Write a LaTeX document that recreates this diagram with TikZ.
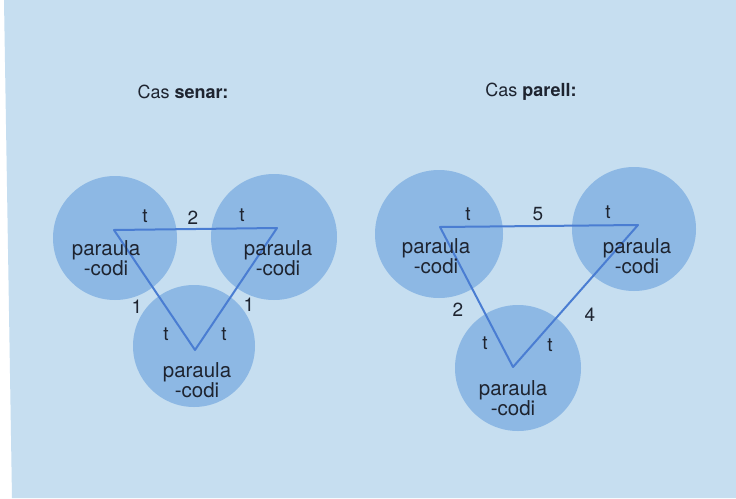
\documentclass[tikz,border=0pt]{standalone}
\usepackage{fontspec}
\setmainfont{TeX Gyre Heros}
\definecolor{bg}{HTML}{C6DEF0}
\definecolor{disc}{HTML}{8DB8E4}
\definecolor{edge}{HTML}{4A7DD2}
\definecolor{ink}{HTML}{1E2430}
\begin{document}
\begin{tikzpicture}[x=1pt,y=-1pt,
  discstyle/.style={fill=disc,draw=none},
  wordlbl/.style={font=\fontsize{20.5}{19}\selectfont,text=ink,align=center,inner sep=0pt},
  smalllbl/.style={font=\fontsize{19}{19}\selectfont,text=ink,inner sep=0pt},
  titlelbl/.style={font=\fontsize{18}{18}\selectfont,text=ink,inner sep=0pt},
  link/.style={draw=edge,line width=2pt,line join=round}]
\useasboundingbox (0,0) rectangle (736,498);
\fill[white] (0,0) rectangle (736,498);
\fill[bg] (4,0) -- (736,0) -- (736,498) -- (12,498) -- cycle;
% titles
\node[titlelbl] (t1) at (183,92) {Cas \textbf{senar:}};
\node[titlelbl] (t2) at (531,92) {Cas \textbf{parell:}};
% left discs
\fill[discstyle] (115,238) circle (62);
\fill[discstyle] (274,237) circle (63);
\fill[discstyle] (194,346) circle (61);
% right discs
\fill[discstyle] (439,234) circle (64);
\fill[discstyle] (634,229) circle (62);
\fill[discstyle] (518,368) circle (63);
% left triangle
\coordinate (a) at (114,230);
\coordinate (b) at (277,228);
\coordinate (c) at (195,350);
\draw[link] (a) -- (b) -- (c) -- cycle;
% right triangle
\coordinate (d) at (440,227);
\coordinate (e) at (638,225);
\coordinate (f) at (513,367);
\draw[link] (d) -- (e) -- (f) -- cycle;
% left labels
\node[smalllbl] (la1) at (145,216) {t};
\node[smalllbl] (la2) at (193,218) {2};
\node[smalllbl] (la3) at (242,215) {t};
\node[wordlbl] (wa) at (106,258) {paraula\\-codi};
\node[wordlbl] (wb) at (278,258) {paraula\\-codi};
\node[smalllbl] (la4) at (137,307) {1};
\node[smalllbl] (la5) at (249,305) {1};
\node[smalllbl] (la6) at (166,334) {t};
\node[smalllbl] (la7) at (224,334) {t};
\node[wordlbl] (wc) at (197,380) {paraula\\-codi};
% right labels
\node[smalllbl] (ra1) at (468,214) {t};
\node[smalllbl] (ra2) at (538,214) {5};
\node[smalllbl] (ra3) at (608,212) {t};
\node[wordlbl] (wd) at (436,256) {paraula\\-codi};
\node[wordlbl] (we) at (637,256) {paraula\\-codi};
\node[smalllbl] (ra4) at (458,310) {2};
\node[smalllbl] (ra5) at (590,315) {4};
\node[smalllbl] (ra6) at (485,343) {t};
\node[smalllbl] (ra7) at (550,345) {t};
\node[wordlbl] (wf) at (513,398) {paraula\\-codi};
\end{tikzpicture}
\end{document}
